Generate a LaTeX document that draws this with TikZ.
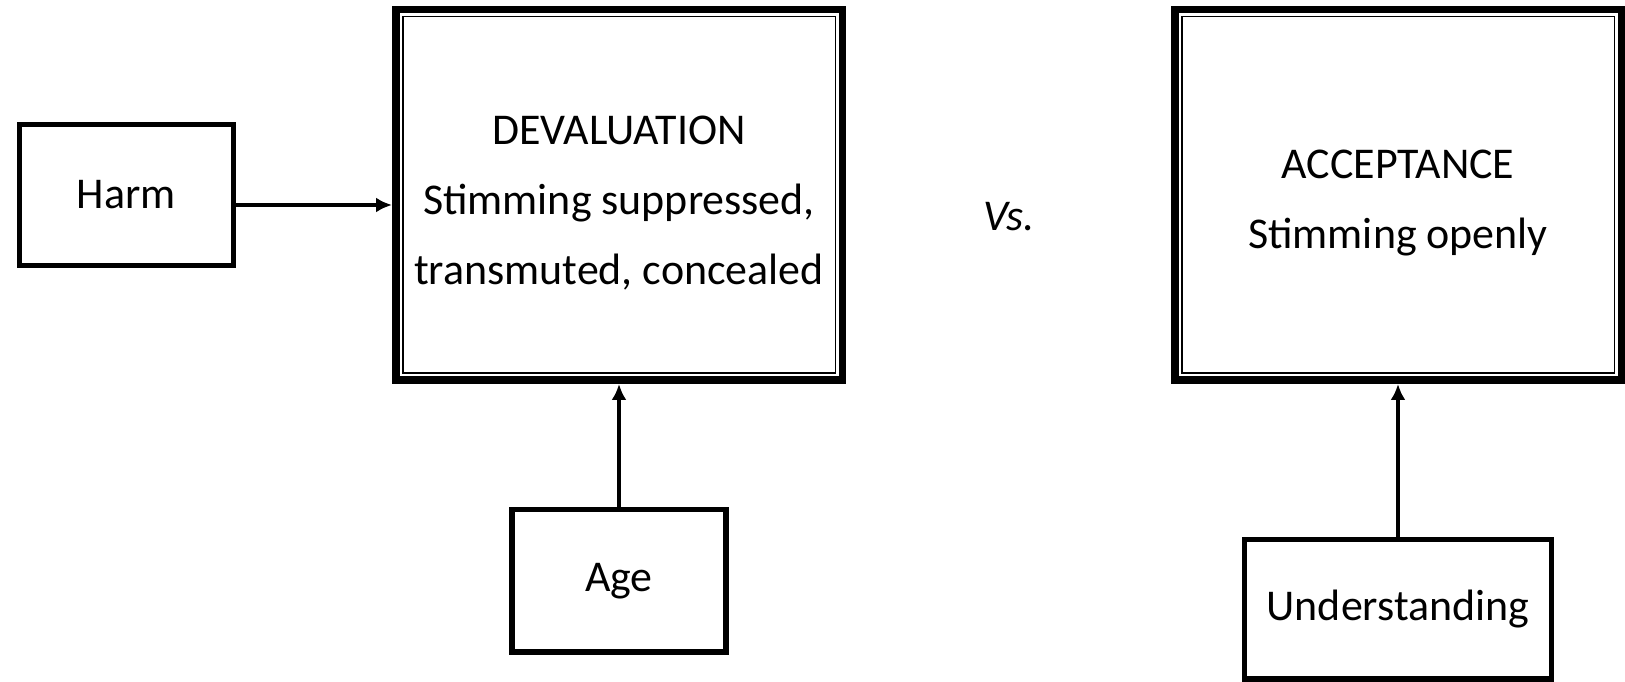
\documentclass[tikz,border=0pt]{standalone}
\usepackage{fontspec}
\setmainfont{Carlito}
\usepackage{tikz}
\usetikzlibrary{arrows.meta,positioning}

\begin{document}
\begin{tikzpicture}[>={Latex[length=0.16cm,width=0.15cm]}, font=\fontsize{12.5}{20}\selectfont,
    bigbox/.style={draw, line width=0.075cm, minimum width=4.465cm, minimum height=3.705cm, inner sep=0pt, align=center},
    smallbox/.style={draw, line width=0.055cm, inner sep=0pt},
    link/.style={->, line width=0.04cm}]
      \useasboundingbox (0,0) rectangle (16.25,6.81);
      \node[bigbox] (dev) at (6.19,4.86) {\rule{0pt}{0.45cm}DEVALUATION\\Stimming suppressed,\\transmuted, concealed};
      \node[bigbox, right=3.25cm of dev] (acc) {\rule{0pt}{0.45cm}ACCEPTANCE\\Stimming openly};
      % inner thin frame of the two main boxes
      \foreach \b in {dev,acc}
        \draw[line width=0.015cm] ([shift={(0.1075,0.1075)}]\b.south west) rectangle ([shift={(-0.1075,-0.1075)}]\b.north east);
      \node[smallbox, minimum width=2.14cm, minimum height=1.41cm, left=1.56cm of dev] (harm) {Harm};
      \node[smallbox, minimum width=2.14cm, minimum height=1.42cm, below=1.23cm of dev] (age) {Age};
      \node[smallbox, minimum width=3.07cm, minimum height=1.39cm, below=1.53cm of acc] (und) {Understanding};
      \node[right=1.25cm of dev, yshift=-0.22cm] (vs) {\itshape Vs.};
      \draw[link] ([yshift=-0.1cm]harm.east) -- ([yshift=-0.1cm]harm.east -| dev.west);
      \draw[link] (age.north) -- (age.north |- dev.south);
      \draw[link] (und.north) -- (und.north |- acc.south);
    \end{tikzpicture}
\end{document}
